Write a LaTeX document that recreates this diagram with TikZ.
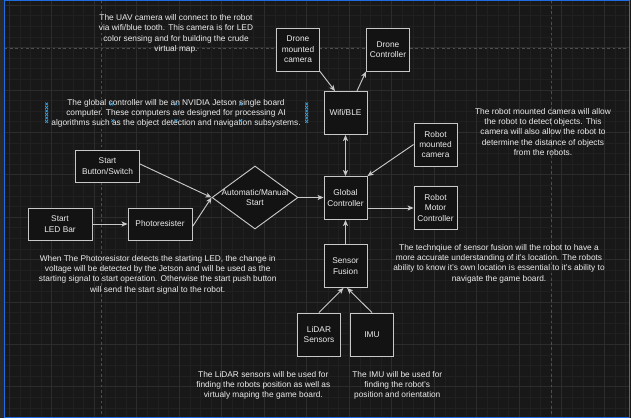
\documentclass[tikz,border=0pt]{standalone}
\usepackage{fontspec}
\setmainfont{Liberation Sans}
\usetikzlibrary{arrows.meta,shapes.geometric}

\definecolor{bgcol}{RGB}{24,24,24}
\definecolor{edgecol}{RGB}{42,42,42}
\definecolor{gridminor}{RGB}{32,32,32}
\definecolor{gridmajor}{RGB}{44,44,44}
\definecolor{pagecol}{RGB}{78,78,78}
\definecolor{boxfill}{RGB}{19,19,19}
\definecolor{linecol}{RGB}{200,200,200}
\definecolor{txtcol}{RGB}{236,236,236}
\definecolor{framecol}{RGB}{30,110,225}
\definecolor{markcol}{RGB}{60,160,220}

\tikzset{
  txt/.style={text=txtcol,align=center,inner sep=0pt,font=\fontsize{6.25}{7.75}\selectfont},
  blk/.style={txt,draw=linecol,fill=boxfill,line width=0.7pt,minimum width=32.25pt,minimum height=32.25pt},
  startblk/.style={blk,minimum width=48pt,minimum height=24pt},
  decide/.style={draw=linecol,fill=boxfill,line width=0.7pt,diamond,inner sep=0pt,minimum width=64.5pt,minimum height=47.25pt},
  conn/.style={draw=linecol,line width=0.7pt,-{Stealth[length=4.5pt,width=3.8pt,inset=1.2pt]}},
  conn2/.style={conn,{Stealth[length=4.5pt,width=3.8pt,inset=1.2pt]}-{Stealth[length=4.5pt,width=3.8pt,inset=1.2pt]}}
}

\begin{document}
\begin{tikzpicture}[x=0.75pt,y=0.75pt,yscale=-1,xscale=1]
\useasboundingbox (0,0) rectangle (631,418);

%Canvas and grid
\fill[bgcol] (0,0) rectangle (631,418);
\fill[edgecol] (0,0) rectangle (4.5,418);
\foreach \i in {0,...,58} \draw[gridminor,line width=0.5pt] ({9.3+\i*10.625},0.8) -- ++(0,416.5);
\foreach \i in {0,...,38} \draw[gridminor,line width=0.5pt] (4.5,{5.1+\i*10.6}) -- ++(624.8,0);
\foreach \i in {0,...,14} \draw[gridmajor,line width=0.6pt] ({9.3+\i*42.5},0.8) -- ++(0,416.5);
\foreach \i in {0,...,9} \draw[gridmajor,line width=0.6pt] (4.5,{5.1+\i*42.4}) -- ++(624.8,0);
%page breaks
\draw[pagecol,line width=0.6pt,dash pattern={on 2pt off 2pt}] (101.5,0.8) -- (101.5,417.3);
\draw[pagecol,line width=0.6pt,dash pattern={on 2pt off 2pt}] (551.7,0.8) -- (551.7,417.3);
\draw[pagecol,line width=0.6pt,dash pattern={on 2pt off 2pt}] (4.5,48.4) -- (629.3,48.4);
\draw[framecol,line width=0.9pt] (4.5,0.8) rectangle (629.3,417.3);

%Shape: Rectangle
\node[blk] (dmc) at (298,49.5) {Drone\\mounted\\camera};
\node[blk] (dctl) at (388,49.5) {Drone\\Controller};
\node[blk] (wifi) at (345.5,113) {Wifi/BLE};
\node[blk] (rcam) at (435.5,144.5) {Robot\\mounted\\camera};
\node[blk] (gctl) at (345.5,198) {Global\\Controller};
\node[blk] (rmot) at (435.5,208) {Robot\\Motor\\Controller};
\node[blk] (sfus) at (345.5,266) {Sensor\\Fusion};
\node[blk] (lidar) at (319,334.5) {LiDAR\\Sensors};
\node[blk] (imu) at (372,334.5) {IMU};
\node[startblk] (sbtn) at (107.5,166) {Start\\Button/Switch};
\node[startblk] (ledbar) at (60,224) {Start\\LED Bar};
\node[startblk] (photo) at (160,224) {Photoresister};
%Shape: Diamond
\node[decide] (amstart) at (255,197.5) {};
\node[txt] (amlabel) at (amstart) {Automatic/Manual\\Start};

%Straight Lines
\draw[conn] (dmc.south east) -- ([xshift=-7.9pt]wifi.north);
\draw[conn] ([xshift=8.6pt]wifi.north) -- (dctl.south west);
\draw[conn2] (wifi) -- (gctl);
\draw[conn] (rcam.west) -- (gctl.north east);
\draw[conn] (gctl.east |- rmot.west) -- (rmot.west);
\draw[conn] (amstart.east) -- (amstart.east -| gctl.west);
\draw[conn] ([yshift=-1.5pt]sbtn.east) -- (amstart.west);
\draw[conn] ([yshift=2pt]photo.east) -- (amstart.west);
\draw[conn] (ledbar) -- (photo);
\draw[conn] (sfus) -- (gctl);
\draw[conn] (lidar.north) -- ([xshift=-1.5pt]sfus.south);
\draw[conn] (imu.north) -- ([xshift=1.2pt]sfus.south);

% Text Node
\node[txt] (uavnote) at (176,33.8) {The UAV camera will connect to the robot\\via wifi/blue tooth. This camera is for LED\\color sensing and for building the crude\\virtual map.};
% Text Node
\node[txt] (jetsonnote) at (176,113.5) {The global controller will be an NVIDIA Jetson single board\\computer. These computers are designed for processing AI\\algorithms such as the object detection and navigation subsystems.};
% Text Node
\node[txt] (rcamnote) at (543,131.7) {The robot mounted camera will allow\\the robot to detect objects. This\\camera will also allow the robot to\\determine the distance of objects\\from the robots.};
% Text Node
\node[txt] (photonote) at (157.7,274.5) {When The Photoresistor detects the starting LED, the change in\\voltage will be detected by the Jetson and will be used as the\\starting signal to start operation. Otherwise the start push button\\will send the start signal to the robot.};
% Text Node
\node[txt] (fusionnote) at (499,263.5) {The technqiue of sensor fusion will the robot to have a\\more accurate understanding of it's location. The robots\\ability to know it's own location is essential to it's ability to\\navigate the game board.};
% Text Node
\node[txt] (lidarnote) at (263.3,385.5) {The LiDAR sensors will be used for\\finding the robots position as well as\\virtualy maping the game board.};
% Text Node
\node[txt] (imunote) at (397.3,385.5) {The IMU will be used for\\finding the robot's\\position and orientation};

%selection handles
\foreach \mx in {46.7,306.7} \foreach \k in {0,...,5}
  \draw[markcol,line width=0.5pt] (\mx-1.4,{104+3.5*\k-1.4}) -- ++(2.8,2.8) (\mx-1.4,{104+3.5*\k+1.4}) -- ++(2.8,-2.8);
\foreach \mx/\my in {111.7/104,176/104,240.7/104,112.7/120.7,176/120.7,240.7/120.7}
  \draw[markcol,line width=0.5pt] (\mx-1.4,\my-1.4) -- ++(2.8,2.8) (\mx-1.4,\my+1.4) -- ++(2.8,-2.8);

\end{tikzpicture}
\end{document}
